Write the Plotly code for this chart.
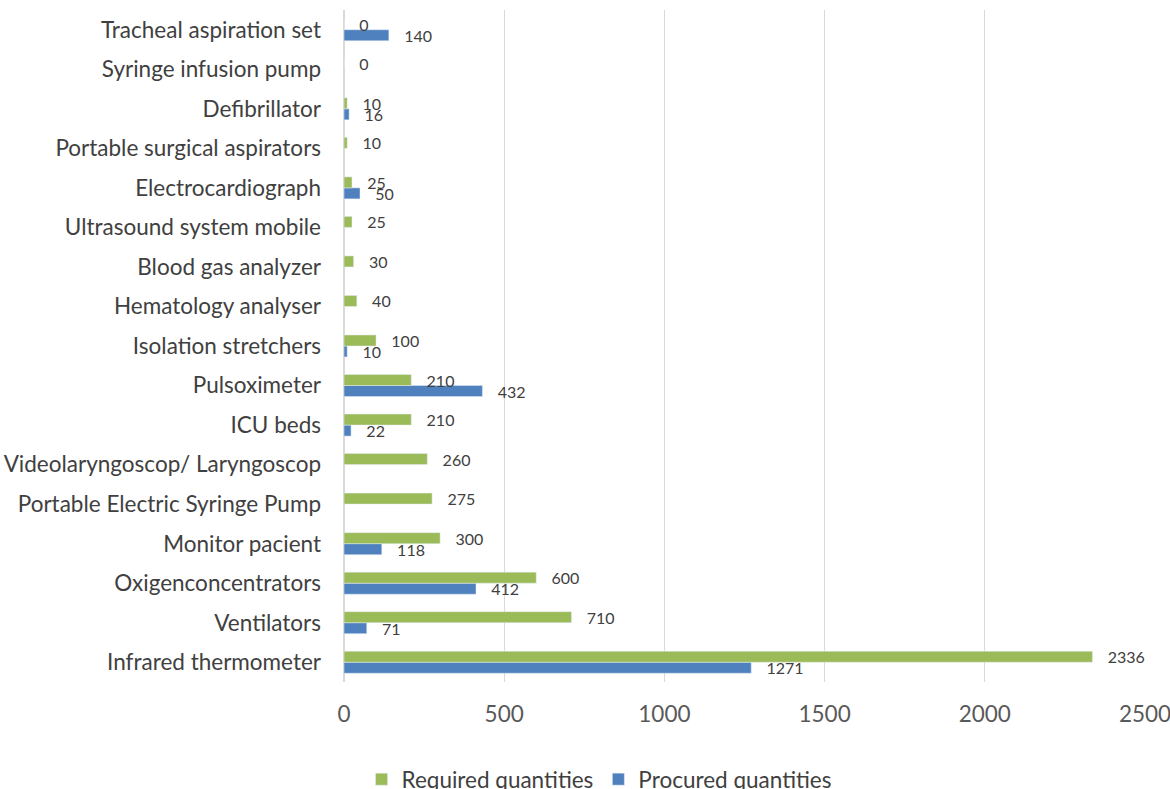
import plotly.graph_objects as go

categories = [
    "Infrared thermometer", "Ventilators", "Oxigenconcentrators", "Monitor pacient",
    "Portable Electric Syringe Pump", "Videolaryngoscop/ Laryngoscop", "ICU beds",
    "Pulsoximeter", "Isolation stretchers", "Hematology analyser", "Blood gas analyzer",
    "Ultrasound system mobile", "Electrocardiograph", "Portable surgical aspirators",
    "Defibrillator", "Syringe infusion pump", "Tracheal aspiration set",
]
required = [2336, 710, 600, 300, 275, 260, 210, 210, 100, 40, 30, 25, 25, 10, 10, 0, 0]
procured = [1271, 71, 412, 118, None, None, 22, 432, 10, None, None, None, 50, None, 16, None, 140]
x_ticks = [0, 500, 1000, 1500, 2000, 2500]

FONT = "Lato, 'Open Sans', sans-serif"

def labels(vals):
    return ["" if v is None else "\u00a0\u00a0\u00a0" + str(v) for v in vals]

fig = go.Figure()
fig.add_trace(go.Bar(
    y=categories, x=procured, orientation="h", name="Procured quantities",
    marker_color="#4e81bd", text=labels(procured), textposition="outside",
    textfont=dict(size=16, color="#404040", family=FONT), cliponaxis=False,
    constraintext="none", legendrank=2,
))
fig.add_trace(go.Bar(
    y=categories, x=required, orientation="h", name="Required quantities",
    marker_color="#9bbb59", text=labels(required), textposition="outside",
    textfont=dict(size=16, color="#404040", family=FONT), cliponaxis=False,
    constraintext="none", legendrank=1,
))

fig.update_layout(
    width=1170, height=789,
    barmode="group", bargap=0.443, bargroupgap=0.0,
    plot_bgcolor="white", paper_bgcolor="white",
    margin=dict(l=344, r=25, t=10, b=107, autoexpand=False),
    font=dict(family=FONT, color="#404040"),
    legend=dict(orientation="h", xref="container", yref="container",
                x=0.512, xanchor="center", y=0.012, yanchor="middle",
                font=dict(size=22.5, color="#404040", family=FONT), traceorder="normal"),
    showlegend=True,
)
fig.update_xaxes(
    range=[0, 2500], tickvals=x_ticks, showgrid=True, gridcolor="#d9d9d9", gridwidth=1,
    zeroline=True, zerolinecolor="#d9d9d9", tickfont=dict(size=22.5, color="#595959", family=FONT),
    ticks="", ticklabelstandoff=16, automargin=False, ticklabeloverflow="allow",
)
fig.update_yaxes(
    range=[-0.5, 16.5], tickfont=dict(size=22.5, color="#404040", family=FONT),
    showgrid=False, ticks="", ticklabelstandoff=22, automargin=False,
)

fig.write_html("out.html", config={"displayModeBar": False},
               post_script="document.body.style.margin='0';document.body.style.overflow='hidden';")
